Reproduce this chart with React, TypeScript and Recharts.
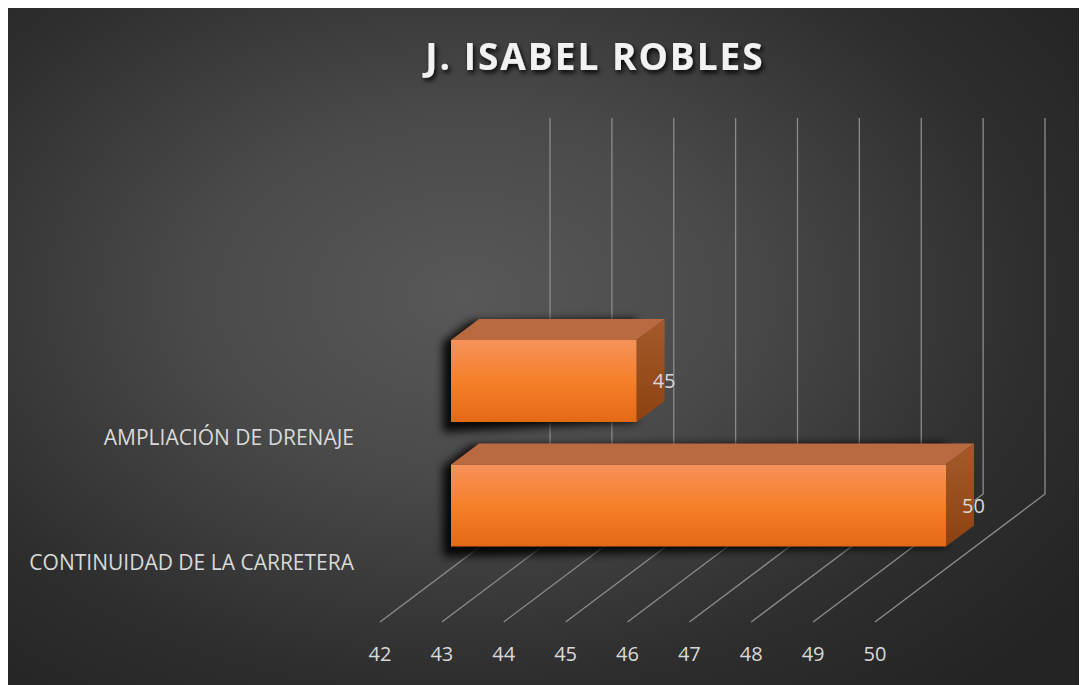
import React from "react";
import {
  Bar,
  BarChart,
  CartesianGrid,
  LabelList,
  XAxis,
  YAxis,
} from "recharts";

const categories = ["AMPLIACIÓN DE DRENAJE", "CONTINUIDAD DE LA CARRETERA"];
const values = [45, 50];
const xTicks = [42, 43, 44, 45, 46, 47, 48, 49, 50];

const data = categories.map((name, i) => ({ name, value: values[i] }));

// fake 3D depth
const DX = 28;
const DY = -21;
const FONT = "'Open Sans', 'Noto Sans', sans-serif";

const Box3D = (props: any) => {
  const { x, y, width, height } = props;
  if (!width || width <= 0) return null;
  const r = x + width;
  const b = y + height;
  return (
    <g>
      <polygon
        points={`${x - 8},${y + 2} ${x - 8 + DX},${y + 2 + DY} ${r},${y + DY} ${r},${b} ${x - 8},${b + 10}`}
        fill="#000"
        opacity={0.9}
        filter="url(#barShadow)"
      />
      <polygon
        points={`${x},${y} ${x + DX},${y + DY} ${r + DX},${y + DY} ${r},${y}`}
        fill="#b96a40"
      />
      <polygon
        points={`${r},${y} ${r + DX},${y + DY} ${r + DX},${b + DY} ${r},${b}`}
        fill="url(#sideGrad)"
      />
      <rect x={x} y={y} width={width} height={height} fill="url(#frontGrad)" />
    </g>
  );
};

const Grid3D = (props: any) => {
  const { x1 } = props;
  const back = x1 + 99;
  const front = x1 - 71;
  return (
    <polyline
      key={`g-${x1}`}
      points={`${back},110 ${back},486 ${front},614`}
      fill="none"
      stroke="#8c8c8c"
      strokeWidth={1.3}
    />
  );
};

const XTick = (props: any) => {
  const { x, payload } = props;
  return (
    <text
      x={x - 71}
      y={645}
      textAnchor="middle"
      dominantBaseline="central"
      fill="#d9d9d9"
      fontSize={20}
      fontFamily={FONT}
    >
      {payload.value}
    </text>
  );
};

const YTick = (props: any) => {
  const { y, payload } = props;
  return (
    <text
      x={346}
      y={y + 56}
      textAnchor="end"
      dominantBaseline="central"
      fill="#d9d9d9"
      fontSize={21}
      fontFamily={FONT}
    >
      {payload.value}
    </text>
  );
};

export default function App() {
  return (
    <div
      style={{
        width: 1087,
        height: 685,
        background:
          "radial-gradient(ellipse 70% 75% at 42% 42%, #585858 0%, #4a4a4a 35%, #2e2e2e 75%, #242424 100%)",
      }}
    >
      <BarChart
        width={1087}
        height={685}
        data={data}
        layout="vertical"
        margin={{ top: 311, right: 149, left: 0, bottom: 95 }}
        barSize={82}
      >
        <defs>
          <linearGradient id="frontGrad" x1="0" y1="0" x2="0" y2="1">
            <stop offset="0%" stopColor="#f5925a" />
            <stop offset="50%" stopColor="#f67f29" />
            <stop offset="100%" stopColor="#e46917" />
          </linearGradient>
          <linearGradient id="sideGrad" x1="0" y1="0" x2="0" y2="1">
            <stop offset="0%" stopColor="#a65a2c" />
            <stop offset="100%" stopColor="#8c4210" />
          </linearGradient>
          <filter id="barShadow" x="-20%" y="-50%" width="140%" height="200%">
            <feGaussianBlur stdDeviation="4" />
          </filter>
          <filter id="titleShadow" x="-10%" y="-30%" width="120%" height="160%">
            <feDropShadow dx="2" dy="3" stdDeviation="2.5" floodColor="#000" floodOpacity="0.9" />
          </filter>
        </defs>
        <text
          x={587}
          y={47}
          textAnchor="middle"
          dominantBaseline="central"
          fill="#f2f2f2"
          fontSize={37}
          fontWeight="bold"
          letterSpacing={2}
          fontFamily={FONT}
          filter="url(#titleShadow)"
        >
          J. ISABEL ROBLES
        </text>
        <CartesianGrid horizontal={false} vertical={Grid3D} />
        <XAxis
          type="number"
          domain={[42, 50]}
          ticks={xTicks}
          axisLine={false}
          tickLine={false}
          height={30}
          tick={XTick}
          interval={0}
        />
        <YAxis
          type="category"
          dataKey="name"
          width={443}
          axisLine={false}
          tickLine={false}
          tick={YTick}
          interval={0}
        />
        <Bar dataKey="value" shape={Box3D} isAnimationActive={false}>
          <LabelList
            dataKey="value"
            position="right"
            offset={16}
            fill="#d9d9d9"
            fontSize={20}
            fontFamily={FONT}
          />
        </Bar>
      </BarChart>
    </div>
  );
}
